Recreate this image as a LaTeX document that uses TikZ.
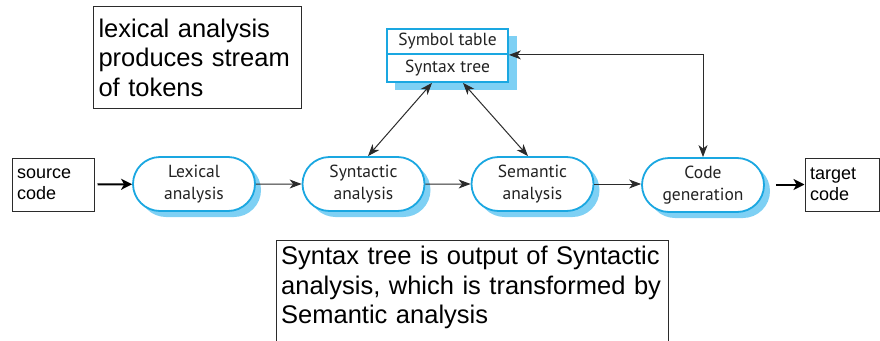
\documentclass[tikz,border=0pt]{standalone}
\usepackage{fontspec}
\setmainfont{Liberation Sans}
\newfontfamily\labelfont{PT Sans}
\usetikzlibrary{arrows.meta,shapes.misc,shadows}
\definecolor{bord}{HTML}{1AA7E1}
\definecolor{shad}{HTML}{7ED0F4}
\definecolor{ink}{HTML}{2B2B2B}
\definecolor{labink}{HTML}{222222}
\begin{document}
\begin{tikzpicture}[x=1pt,y=-1pt,
  stage/.style={rounded rectangle, draw=bord, line width=1.8pt, fill=white,
    minimum width=122pt, minimum height=54pt, inner sep=0pt, align=center,
    font=\labelfont\fontsize{17.5}{22}\selectfont, text=labink,
    drop shadow={shadow xshift=6pt,shadow yshift=-6pt,fill=shad,opacity=1}},
  tabbox/.style={draw=bord, line width=1.8pt, fill=white, minimum width=121pt,
    inner sep=0pt, font=\labelfont\fontsize{17.5}{20}\selectfont, text=labink},
  iobox/.style={draw=ink, line width=1pt, minimum height=53pt, align=left,
    inner xsep=5pt, font=\fontsize{18}{21}\selectfont, text=black},
  note/.style={align=left, inner xsep=5pt, font=\fontsize{25.5}{29.5}\selectfont, text=black},
  flow/.style={draw=ink, line width=1pt, -{Stealth[length=12pt,width=9pt,inset=3.5pt]}},
  biflow/.style={draw=ink, line width=1pt, {Stealth[length=12pt,width=9pt,inset=3.5pt]}-{Stealth[length=12pt,width=9pt,inset=3.5pt]}},
  thickflow/.style={draw=black, line width=2pt, -{Stealth[length=11pt,width=11pt,inset=3pt]}}
]
\useasboundingbox (0,0) rectangle (880,340);

% notes
\node[note, draw=ink, line width=1pt, anchor=north west, minimum width=208pt,
  minimum height=102pt, text width=198pt] (lexnote) at (93,6)
  {lexical analysis\\produces stream\\of tokens};
\draw[ink, line width=1pt] (276,345) -- (276,240) -- (668,240) -- (668,345);
\node[note, anchor=north west, text width=382pt, inner ysep=6pt] (synnote) at (276,240)
  {Syntax tree is output of Syntactic\\analysis, which is transformed by\\Semantic analysis};

% symbol table / syntax tree
\fill[shad] (395,36) rectangle (517,90);
\node[tabbox, minimum height=25pt] (symtab) at (447.5,41.5) {Symbol table};
\node[tabbox, minimum height=28pt] (syntree) at (447.5,68) {Syntax tree};

% stages
\node[stage] (lex) at (194,184) {Lexical\\analysis};
\node[stage] (syn) at (363.5,184) {Syntactic\\analysis};
\node[stage] (sem) at (532.5,184) {Semantic\\analysis};
\node[stage] (code) at (703,185) {Code\\generation};

% io boxes
\node[iobox, minimum width=82pt, text width=72pt] (src) at (53,184.5) {source\\code};
\node[iobox, minimum width=74pt, text width=64pt] (tgt) at (842,184.5) {target\\code};

% connectors
\draw[thickflow, shorten <=3pt] (src) -- (lex);
\draw[flow] (lex) -- (syn);
\draw[flow] (syn) -- (sem);
\draw[flow] (sem.east) -- (sem.east -| code.west);
\draw[thickflow, shorten <=11pt] (code.east |- tgt.west) -- (tgt.west);
\draw[biflow] ([xshift=-15.5pt]syntree.south) -- ([xshift=4.5pt]syn.north);
\draw[biflow] ([xshift=15.5pt]syntree.south) -- ([xshift=-4.5pt]sem.north);
\draw[biflow] (symtab.south east) -| (code.north);
\end{tikzpicture}
\end{document}
